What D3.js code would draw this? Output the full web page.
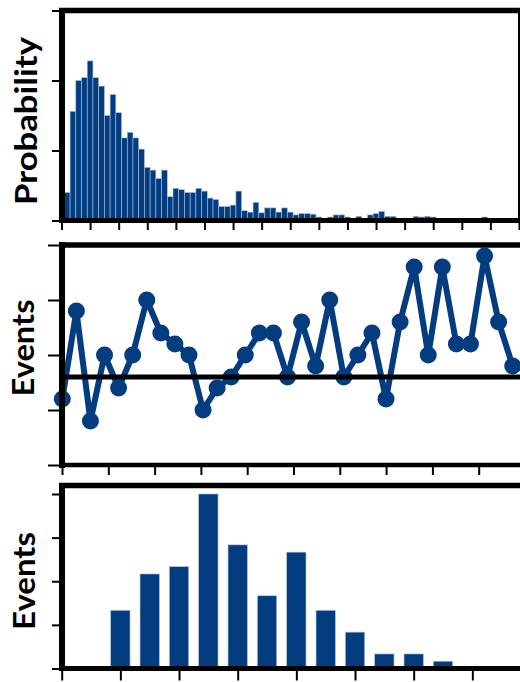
<!DOCTYPE html>
<html lang="en">
<head>
<meta charset="utf-8">
<title>Probability and events</title>
<script src="https://cdn.jsdelivr.net/npm/d3@7"></script>
<style>
  body { margin: 0; background: #fff; }
  text { font-family: Lato, "Open Sans", sans-serif; font-weight: bold; }
</style>
</head>
<body>
<script>
var w = 520, h = 682;
var blue = "#043c80";
var edge = "#aac0de";

// panel 1 - histogram, percent per bin (bins 1..79)
var histValues = [2.0, 7.8, 10.0, 10.2, 11.4, 10.2, 9.6, 7.5, 9.0, 7.7,
                  5.9, 6.3, 5.9, 5.1, 3.8, 3.6, 3.0, 3.6, 1.7, 2.3,
                  2.2, 2.0, 2.0, 2.3, 2.1, 1.6, 1.5, 1.0, 1.0, 1.1,
                  2.1, 0.7, 0.6, 1.3, 0.55, 0.9, 0.9, 0.6, 0.9, 0.6,
                  0.4, 0.5, 0.5, 0.45, 0.25, 0.15, 0.25, 0.4, 0.4, 0.25,
                  0.15, 0.3, 0.15, 0.4, 0.5, 0.65, 0.3, 0.3, 0.15, 0.15,
                  0, 0.3, 0.25, 0.3, 0.25, 0.1, 0, 0.1, 0, 0.1,
                  0, 0, 0, 0.25, 0.1, 0.1, 0, 0.1, 0.1];
var histYTicks = [0, 5, 10, 15];
var histXTicks = [0, 5, 10, 15, 20, 25, 30, 35, 40, 45, 50, 55, 60, 65, 70, 75, 80];

// panel 2 - events over time with threshold
var eventSeries = [6, 14, 4, 10, 7, 10, 15, 12, 11, 10,
                   5, 7, 8, 10, 12, 12, 8, 13, 9, 15,
                   8, 10, 12, 6, 13, 18, 10, 18, 11, 11,
                   19, 13, 9];
var eventThreshold = 8;
var eventYTicks = [0, 5, 10, 15, 20];
var eventXTicks = [0, 1, 2, 3, 4, 5, 6, 7, 8, 9];

// panel 3 - event counts per bin
var countBins = [0, 1, 2, 3, 4, 5, 6, 7, 8, 9, 10, 11, 12, 13, 14, 15];
var countValues = [0, 0, 8, 13, 14, 24, 17, 10, 16, 8, 5, 2, 2, 1, 0, 0];
var countYTicks = [0, 6, 12, 18, 24];
var countXTicks = [0, 2, 4, 6, 8, 10, 12, 14];

var svg = d3.select("body").append("svg")
    .attr("width", w)
    .attr("height", h);

function thick(x1, y1, x2, y2, sw) {
  svg.append("line")
    .attr("x1", x1).attr("y1", y1).attr("x2", x2).attr("y2", y2)
    .attr("stroke", "#000").attr("stroke-width", sw);
}

function ticks(g) {
  g.select(".domain").remove();
  g.selectAll("line").attr("stroke", "#000").attr("stroke-width", 2);
}

function yLabel(txt, x, y, len) {
  svg.append("text")
    .attr("transform", "translate(" + x + "," + y + ") rotate(-90)")
    .attr("text-anchor", "middle")
    .attr("font-size", 31)
    .attr("textLength", len)
    .attr("lengthAdjust", "spacingAndGlyphs")
    .text(txt);
}

// ---------- panel 1 ----------
var x1 = d3.scaleLinear().domain([0, 80]).range([61.5, 519]);
var y1 = d3.scaleLinear().domain([0, 15]).range([220.5, 10.5]);
var bw1 = x1(1) - x1(0);

svg.append("g")
  .call(d3.axisLeft(y1).tickValues(histYTicks).tickSize(10).tickFormat(""))
  .attr("transform", "translate(62,0)")
  .call(ticks);
svg.append("g")
  .attr("transform", "translate(0," + y1(0) + ")")
  .call(d3.axisBottom(x1).tickValues(histXTicks).tickSize(9.5).tickFormat(""))
  .call(ticks);

svg.append("g").selectAll("rect")
  .data(histValues.map(function(v, i) { return {bin: i + 1, v: v}; }).filter(function(d) { return d.v > 0; }))
  .join("rect")
  .attr("x", function(d) { return x1(d.bin) - bw1 / 2; })
  .attr("width", bw1)
  .attr("y", function(d) { return y1(d.v); })
  .attr("height", function(d) { return y1(0) - y1(d.v); })
  .attr("fill", blue)
  .attr("stroke", edge)
  .attr("stroke-width", 0.6);

thick(59, y1(15), 520, y1(15), 5.5);
thick(62, 8, 62, 223, 6);
thick(59, y1(0), 520, y1(0), 5);
thick(519, 8, 519, 223, 2);

yLabel("Probability", 37, 121, 168);

// ---------- panel 2 ----------
var xs2 = d3.scaleLinear().domain([0, eventSeries.length - 1]).range([62.3, 512.7]);
var xt2 = d3.scaleLinear().domain([0, 10]).range([62, 525]);
var y2 = d3.scaleLinear().domain([0, 20]).range([465, 245]);

svg.append("g")
  .attr("transform", "translate(62,0)")
  .call(d3.axisLeft(y2).tickValues(eventYTicks).tickSize(14).tickFormat(""))
  .call(ticks);
svg.append("g")
  .attr("transform", "translate(0," + y2(0) + ")")
  .call(d3.axisBottom(xt2).tickValues(eventXTicks).tickSize(10).tickFormat(""))
  .call(ticks);

var line2 = d3.line()
  .x(function(d, i) { return xs2(i); })
  .y(function(d) { return y2(d); });

svg.append("path")
  .datum(eventSeries)
  .attr("d", line2)
  .attr("fill", "none")
  .attr("stroke", blue)
  .attr("stroke-width", 6)
  .attr("stroke-linejoin", "round");

svg.append("g").selectAll("circle")
  .data(eventSeries)
  .join("circle")
  .attr("cx", function(d, i) { return xs2(i); })
  .attr("cy", function(d) { return y2(d); })
  .attr("r", 8.5)
  .attr("fill", blue);

thick(62, y2(eventThreshold), 520, y2(eventThreshold), 5);
thick(59, y2(20), 520, y2(20), 5.5);
thick(62, 242, 62, 468, 6);
thick(59, y2(0), 520, y2(0), 4.5);

yLabel("Events", 33.5, 348, 97);

// ---------- panel 3 ----------
var x3 = d3.scaleLinear().domain([0, 16]).range([61.7, 531]);
var y3 = d3.scaleLinear().domain([0, 24]).range([668.5, 494]);
var bw3 = 19.3;

svg.append("g")
  .attr("transform", "translate(62,0)")
  .call(d3.axisLeft(y3).tickValues(countYTicks).tickSize(10).tickFormat(""))
  .call(ticks);
svg.append("g")
  .attr("transform", "translate(0," + y3(0) + ")")
  .call(d3.axisBottom(x3).tickValues(countXTicks).tickSize(12).tickFormat(""))
  .call(ticks);

svg.append("g").selectAll("rect")
  .data(countBins.filter(function(b) { return countValues[b] > 0; }))
  .join("rect")
  .attr("x", function(b) { return x3(b) - bw3 / 2; })
  .attr("width", bw3)
  .attr("y", function(b) { return y3(countValues[b]); })
  .attr("height", function(b) { return y3(0) - y3(countValues[b]); })
  .attr("fill", blue)
  .attr("stroke", edge)
  .attr("stroke-width", 0.6);

thick(59, 485.5, 520, 485.5, 5.5);
thick(62, 483, 62, 671, 6);
thick(59, y3(0), 520, y3(0), 5);

yLabel("Events", 35, 581, 98);
</script>
</body>
</html>
